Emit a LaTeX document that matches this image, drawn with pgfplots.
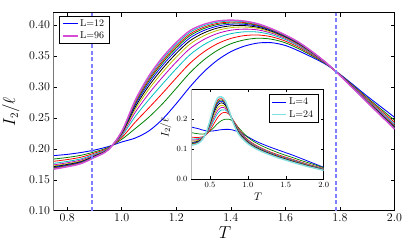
\documentclass[border=0pt]{standalone}
\usepackage{pgfplots}
\pgfplotsset{compat=1.18}
\usepackage{pgfplotstable}
\definecolor{mb}{rgb}{0,0,1}
\definecolor{mg}{rgb}{0,0.5,0}
\definecolor{mr}{rgb}{1,0,0}
\definecolor{mc}{rgb}{0,0.75,0.75}
\definecolor{mm}{rgb}{0.75,0,0.75}
\definecolor{my}{rgb}{0.75,0.75,0}
\definecolor{mk}{rgb}{0,0,0}
\definecolor{dashb}{rgb}{0.5,0.5,1}
\definecolor{palec}{rgb}{0.5,0.88,0.88}
\definecolor{palem}{rgb}{0.84,0.3,0.84}

\pgfplotstableread{
T c0 c1 c2 c3 c4 c5 c6 c7 c8 c9 c10 c11
0.75 0.1890 0.1835 0.1798 0.1765 0.1740 0.1723 0.1710 0.1699 0.1690 0.1683 0.1677 0.1670
0.80 0.1910 0.1860 0.1826 0.1796 0.1774 0.1758 0.1746 0.1736 0.1728 0.1722 0.1716 0.1710
0.85 0.1940 0.1895 0.1864 0.1837 0.1818 0.1803 0.1792 0.1783 0.1776 0.1771 0.1765 0.1760
0.90 0.1980 0.1950 0.1930 0.1912 0.1898 0.1889 0.1882 0.1876 0.1871 0.1867 0.1864 0.1860
0.95 0.2035 0.2021 0.2012 0.2004 0.1998 0.1993 0.1990 0.1987 0.1985 0.1983 0.1982 0.1980
1.00 0.2110 0.2153 0.2181 0.2207 0.2226 0.2239 0.2249 0.2258 0.2265 0.2270 0.2275 0.2280
1.05 0.2175 0.2329 0.2433 0.2526 0.2593 0.2642 0.2679 0.2710 0.2735 0.2753 0.2772 0.2790
1.10 0.2290 0.2513 0.2664 0.2797 0.2895 0.2966 0.3020 0.3064 0.3100 0.3127 0.3153 0.3180
1.15 0.2480 0.2730 0.2900 0.3050 0.3160 0.3240 0.3300 0.3350 0.3390 0.3420 0.3450 0.3480
1.20 0.2730 0.2978 0.3146 0.3294 0.3403 0.3482 0.3542 0.3591 0.3631 0.3661 0.3690 0.3720
1.25 0.3000 0.3228 0.3382 0.3519 0.3619 0.3692 0.3746 0.3792 0.3828 0.3855 0.3883 0.3910
1.30 0.3240 0.3433 0.3563 0.3679 0.3764 0.3825 0.3871 0.3910 0.3941 0.3964 0.3987 0.4010
1.35 0.3430 0.3589 0.3697 0.3792 0.3862 0.3913 0.3951 0.3982 0.4008 0.4027 0.4046 0.4065
1.40 0.3570 0.3698 0.3784 0.3861 0.3917 0.3958 0.3988 0.4014 0.4034 0.4049 0.4065 0.4080
1.45 0.3660 0.3761 0.3830 0.3891 0.3935 0.3968 0.3992 0.4012 0.4029 0.4041 0.4053 0.4065
1.50 0.3710 0.3788 0.3840 0.3887 0.3921 0.3946 0.3964 0.3980 0.3992 0.4001 0.4011 0.4020
1.55 0.3715 0.3771 0.3810 0.3843 0.3868 0.3886 0.3900 0.3911 0.3920 0.3927 0.3933 0.3940
1.60 0.3670 0.3713 0.3741 0.3767 0.3786 0.3799 0.3809 0.3818 0.3825 0.3830 0.3835 0.3840
1.65 0.3580 0.3615 0.3639 0.3660 0.3675 0.3686 0.3695 0.3702 0.3707 0.3712 0.3716 0.3720
1.70 0.3475 0.3498 0.3513 0.3526 0.3536 0.3543 0.3549 0.3553 0.3557 0.3560 0.3562 0.3565
1.75 0.3360 0.3368 0.3373 0.3377 0.3380 0.3383 0.3385 0.3386 0.3387 0.3388 0.3389 0.3390
1.80 0.3205 0.3200 0.3197 0.3194 0.3191 0.3190 0.3189 0.3188 0.3187 0.3186 0.3186 0.3185
1.85 0.3030 0.3015 0.3005 0.2996 0.2989 0.2984 0.2981 0.2978 0.2975 0.2974 0.2972 0.2970
1.90 0.2850 0.2825 0.2808 0.2793 0.2782 0.2774 0.2768 0.2763 0.2759 0.2756 0.2753 0.2750
1.95 0.2680 0.2644 0.2619 0.2597 0.2581 0.2570 0.2561 0.2554 0.2548 0.2544 0.2539 0.2535
2.00 0.2510 0.2463 0.2430 0.2402 0.2381 0.2366 0.2354 0.2345 0.2337 0.2331 0.2326 0.2320
}\maindata

\pgfplotstableread{
T d0 d1 d2 d3 d4 d5 d6 d7 d8 d9 d10
0.25 0.174 0.155 0.140 0.1343 0.1303 0.1268 0.1227 0.1200 0.1181 0.1160 0.113
0.30 0.171 0.153 0.139 0.1340 0.1304 0.1272 0.1236 0.1212 0.1196 0.1176 0.115
0.35 0.168 0.151 0.139 0.1350 0.1322 0.1297 0.1268 0.1249 0.1236 0.1221 0.120
0.40 0.164 0.150 0.141 0.1391 0.1378 0.1366 0.1352 0.1343 0.1337 0.1330 0.132
0.45 0.161 0.152 0.148 0.1495 0.1505 0.1514 0.1525 0.1532 0.1537 0.1542 0.155
0.50 0.160 0.160 0.163 0.1697 0.1745 0.1787 0.1835 0.1867 0.1889 0.1915 0.195
0.55 0.161 0.172 0.184 0.1958 0.2042 0.2114 0.2198 0.2254 0.2294 0.2338 0.240
0.60 0.163 0.185 0.205 0.2187 0.2284 0.2369 0.2466 0.2531 0.2577 0.2629 0.270
0.65 0.165 0.195 0.219 0.2308 0.2392 0.2464 0.2548 0.2604 0.2644 0.2688 0.275
0.70 0.166 0.200 0.223 0.2312 0.2370 0.2421 0.2480 0.2519 0.2546 0.2577 0.262
0.75 0.166 0.200 0.217 0.2197 0.2217 0.2234 0.2253 0.2266 0.2275 0.2286 0.230
0.80 0.164 0.194 0.200 0.1983 0.1971 0.1961 0.1949 0.1941 0.1935 0.1929 0.192
0.85 0.160 0.180 0.180 0.1764 0.1739 0.1717 0.1691 0.1674 0.1662 0.1649 0.163
0.90 0.155 0.165 0.160 0.1564 0.1539 0.1517 0.1491 0.1474 0.1462 0.1449 0.143
1.00 0.141 0.139 0.131 0.1283 0.1263 0.1246 0.1227 0.1214 0.1205 0.1194 0.118
1.10 0.127 0.122 0.114 0.1115 0.1097 0.1081 0.1063 0.1051 0.1043 0.1033 0.102
1.20 0.116 0.109 0.101 0.0987 0.0970 0.0956 0.0940 0.0929 0.0921 0.0912 0.090
1.30 0.106 0.098 0.090 0.0879 0.0864 0.0851 0.0836 0.0826 0.0819 0.0811 0.080
1.40 0.097 0.088 0.081 0.0789 0.0774 0.0761 0.0746 0.0736 0.0729 0.0721 0.071
1.50 0.088 0.079 0.073 0.0709 0.0694 0.0681 0.0666 0.0656 0.0649 0.0641 0.063
1.60 0.079 0.071 0.065 0.0629 0.0614 0.0601 0.0586 0.0576 0.0569 0.0561 0.055
1.70 0.069 0.062 0.057 0.0551 0.0538 0.0526 0.0512 0.0503 0.0497 0.0490 0.048
1.80 0.059 0.054 0.049 0.0473 0.0461 0.0451 0.0439 0.0431 0.0425 0.0419 0.041
1.90 0.049 0.046 0.042 0.0405 0.0395 0.0386 0.0375 0.0368 0.0363 0.0358 0.035
2.00 0.039 0.038 0.035 0.0337 0.0328 0.0321 0.0312 0.0306 0.0301 0.0297 0.029
}\insetdata

\begin{document}
\begin{tikzpicture}
\begin{axis}[
  at={(0pt,0pt)}, anchor=south west,
  scale only axis, width=341pt, height=198pt,
  xmin=0.75, xmax=2.0, ymin=0.10, ymax=0.42,
  xtick={0.8,1.0,1.2,1.4,1.6,1.8,2.0},
  ytick={0.10,0.15,0.20,0.25,0.30,0.35,0.40},
  xticklabel style={/pgf/number format/.cd, fixed, fixed zerofill, precision=1},
  yticklabel style={/pgf/number format/.cd, fixed, fixed zerofill, precision=2},
  tick label style={font=\fontsize{12}{14}\selectfont},
  tick align=inside, major tick length=4pt,
  tick style={black, line width=0.5pt},
  axis line style={line width=0.6pt},
  xlabel={$T$}, ylabel={$I_2/\ell$},
  label style={font=\fontsize{16}{18}\selectfont},
  xlabel style={at={(axis description cs:0.503,-0.110)}, anchor=center},
  ylabel style={at={(axis description cs:-0.125,0.5)}, anchor=center},
  legend style={at={(axis description cs:0.015,0.985)}, anchor=north west,
    font=\fontsize{10}{12}\selectfont,
    inner xsep=3pt, inner ysep=1.5pt, row sep=0pt},
  legend image code/.code={\draw[#1] (0pt,0pt) -- (15pt,0pt);},
  legend cell align=left,
]
\addplot[color=mb, line width=0.9pt, smooth] table[x=T, y=c0] {\maindata};
\addlegendentry{L=12}
\addplot[mg, line width=0.8pt, smooth, forget plot] table[x=T, y=c1] {\maindata};
\addplot[mr, line width=0.8pt, smooth, forget plot] table[x=T, y=c2] {\maindata};
\addplot[mc, line width=0.8pt, smooth, forget plot] table[x=T, y=c3] {\maindata};
\addplot[mm, line width=0.8pt, smooth, forget plot] table[x=T, y=c4] {\maindata};
\addplot[my, line width=0.8pt, smooth, forget plot] table[x=T, y=c5] {\maindata};
\addplot[mk, line width=0.8pt, smooth, forget plot] table[x=T, y=c6] {\maindata};
\addplot[mb, line width=0.8pt, smooth, forget plot] table[x=T, y=c7] {\maindata};
\addplot[mg, line width=0.8pt, smooth, forget plot] table[x=T, y=c8] {\maindata};
\addplot[mr, line width=0.8pt, smooth, forget plot] table[x=T, y=c9] {\maindata};
\addplot[mc, line width=0.8pt, smooth, forget plot] table[x=T, y=c10] {\maindata};
\addplot[color=palem, line width=1.4pt, smooth] table[x=T, y=c11] {\maindata};
\addlegendentry{L=96}
\addplot[dashb, line width=1.8pt, dash pattern=on 4pt off 2.5pt, forget plot] coordinates {(0.892,0.10) (0.892,0.42)};
\addplot[dashb, line width=1.8pt, dash pattern=on 4pt off 2.5pt, forget plot] coordinates {(1.785,0.10) (1.785,0.42)};
\draw[gray!55, line width=1.3pt] (rel axis cs:0,0) -- (rel axis cs:0,1);
\end{axis}

\begin{axis}[
  at={(137.5pt,31.7pt)}, anchor=south west,
  scale only axis, width=132.7pt, height=89.7pt,
  xmin=0.25, xmax=2.0, ymin=0, ymax=0.3,
  xtick={0.5,1.0,1.5,2.0}, ytick={0.0,0.1,0.2},
  xticklabel style={/pgf/number format/.cd, fixed, fixed zerofill, precision=1},
  yticklabel style={/pgf/number format/.cd, fixed, fixed zerofill, precision=1},
  tick label style={font=\fontsize{8.5}{10}\selectfont},
  tick align=inside, major tick length=3pt,
  tick style={black, line width=0.5pt},
  axis line style={line width=0.6pt},
  axis background/.style={fill=white},
  xlabel={$T$}, ylabel={$I_2/\ell$},
  label style={font=\fontsize{11}{13}\selectfont},
  xlabel style={at={(axis description cs:0.505,-0.20)}, anchor=center},
  ylabel style={at={(axis description cs:-0.19,0.57)}, anchor=center},
  legend style={at={(axis description cs:0.96,0.945)}, anchor=north east,
    font=\fontsize{10}{12}\selectfont,
    inner xsep=3pt, inner ysep=1.5pt, row sep=0pt},
  legend image code/.code={\draw[#1] (0pt,0pt) -- (14pt,0pt);},
  legend cell align=left,
]
\addplot[color=mb, line width=0.8pt, smooth] table[x=T, y=d0] {\insetdata};
\addlegendentry{L=4}
\addplot[mg, line width=0.7pt, smooth, forget plot] table[x=T, y=d1] {\insetdata};
\addplot[mr, line width=0.7pt, smooth, forget plot] table[x=T, y=d2] {\insetdata};
\addplot[mc, line width=0.7pt, smooth, forget plot] table[x=T, y=d3] {\insetdata};
\addplot[mm, line width=0.7pt, smooth, forget plot] table[x=T, y=d4] {\insetdata};
\addplot[my, line width=0.7pt, smooth, forget plot] table[x=T, y=d5] {\insetdata};
\addplot[mk, line width=0.7pt, smooth, forget plot] table[x=T, y=d6] {\insetdata};
\addplot[mb, line width=0.7pt, smooth, forget plot] table[x=T, y=d7] {\insetdata};
\addplot[mg, line width=0.7pt, smooth, forget plot] table[x=T, y=d8] {\insetdata};
\addplot[mr, line width=0.7pt, smooth, forget plot] table[x=T, y=d9] {\insetdata};
\addplot[color=palec, line width=1.4pt, smooth] table[x=T, y=d10] {\insetdata};
\addlegendentry{L=24}
\draw[gray!55, line width=1.3pt] (rel axis cs:0,0) -- (rel axis cs:0,1);
\end{axis}
\pgfresetboundingbox
\path[use as bounding box] (-53.5pt,-38.3pt) rectangle (361.5pt,210.7pt);
\end{tikzpicture}
\end{document}
